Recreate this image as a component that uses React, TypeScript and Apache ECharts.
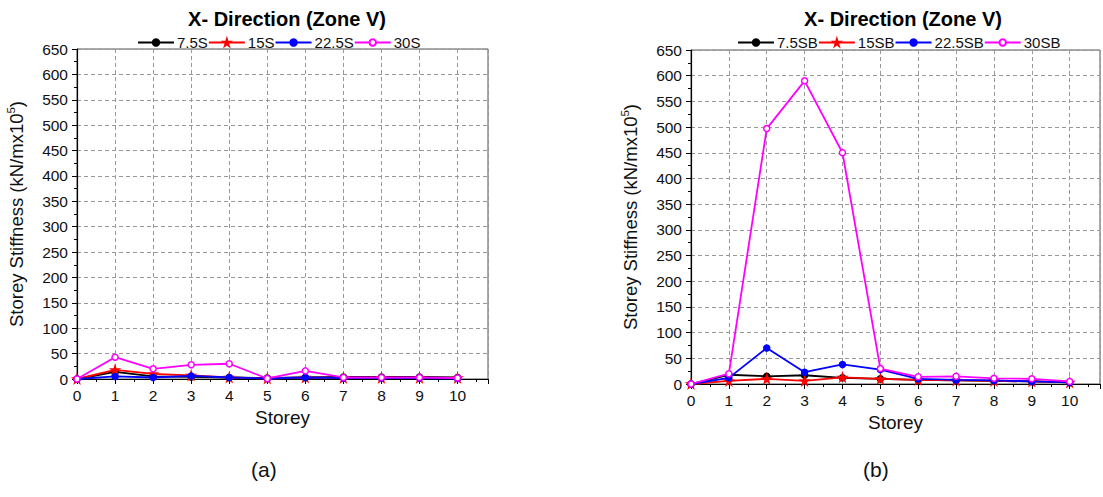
import React, { useEffect, useRef } from "react";
import * as echarts from "echarts";

const storeys = [0, 1, 2, 3, 4, 5, 6, 7, 8, 9, 10];

const namesA = ["7.5S", "15S", "22.5S", "30S"];
const s75A = [0, 14, 5, 4, 3, 2, 3, 4, 4, 4, 3];
const s15A = [0, 18, 10, 7, 3, 1, 3, 2, 2, 2, 2];
const s225A = [0, 5, 3, 6, 3, 1, 3, 2, 2, 2, 1];
const s30A = [0, 43, 20, 28, 30, 1, 16, 3, 3, 3, 2];

const namesB = ["7.5SB", "15SB", "22.5SB", "30SB"];
const s75B = [0, 18, 15, 17, 12, 10, 8, 7, 6, 5, 3];
const s15B = [0, 6, 10, 6, 13, 10, 8, 7, 6, 5, 3];
const s225B = [0, 12, 70, 23, 38, 28, 10, 8, 7, 5, 3];
const s30B = [0, 20, 497, 590, 450, 30, 14, 15, 11, 10, 5];

const titleText = "X- Direction (Zone V)";
const yName = "Storey Stiffness (kN/mx10{sup|5})";
const xName = "Storey";

const colors = ["#000000", "#ff0000", "#0000ff", "#ff00ff"];
const STAR =
  "path://M50,0 L61,35 L98,35 L68,57 L79,91 L50,70 L21,91 L32,57 L2,35 L39,35 Z";
const symbols = ["circle", STAR, "circle", "circle"];
const FONT = "Liberation Sans, Arial, sans-serif";

export default function App() {
  const ref = useRef<HTMLDivElement>(null);
  useEffect(() => {
    if (!ref.current) return;
    const chart = echarts.init(ref.current, null, { renderer: "svg" });

    const mkSeries = (names: string[], arrs: number[][], idx: number) =>
      arrs.map((arr, i) => ({
        name: names[i],
        type: "line",
        xAxisIndex: idx,
        yAxisIndex: idx,
        data: arr.map((v, j) => [storeys[j], v]),
        symbol: symbols[i],
        symbolSize: i === 1 ? 8 : 6,
        showSymbol: true,
        lineStyle: { color: colors[i], width: 1.8 },
        itemStyle: {
          color: i === 3 ? "#ffffff" : colors[i],
          borderColor: colors[i],
          borderWidth: 1.5,
        },
        z: 2 + i,
      }));

    const xAxisCommon = (gridIndex: number) => ({
      type: "value",
      gridIndex,
      min: 0,
      max: 10.8,
      interval: 1,
      name: xName,
      nameLocation: "middle",
      nameGap: 29,
      nameTextStyle: { fontSize: 19, color: "#111", fontFamily: FONT },
      axisLine: { show: true, lineStyle: { color: "#000", width: 1.2 } },
      axisTick: { show: true, length: 5, lineStyle: { color: "#000" } },
      minorTick: { show: true, splitNumber: 2, length: 3, lineStyle: { color: "#000" } },
      axisLabel: {
        fontSize: 15.5,
        color: "#111",
        fontFamily: FONT,
        margin: 8,
        formatter: (v: number) => (Number.isInteger(v) ? String(v) : ""),
      },
      splitLine: { show: true, lineStyle: { color: "#999", type: [4, 3], width: 1 } },
    });

    const yAxisCommon = (gridIndex: number) => ({
      type: "value",
      gridIndex,
      min: 0,
      max: 650,
      interval: 50,
      name: yName,
      nameLocation: "middle",
      nameGap: 50,
      nameTextStyle: {
        fontSize: 18.5,
        color: "#111",
        fontFamily: FONT,
        rich: {
          sup: { fontSize: 11.5, color: "#111", fontFamily: FONT, padding: [0, 0, 10, 0] },
        },
      },
      axisLine: { show: true, lineStyle: { color: "#000", width: 1.2 } },
      axisTick: { show: true, length: 5, lineStyle: { color: "#000" } },
      minorTick: { show: true, splitNumber: 2, length: 3, lineStyle: { color: "#000" } },
      axisLabel: { fontSize: 15.5, color: "#111", fontFamily: FONT, margin: 9 },
      splitLine: { show: true, lineStyle: { color: "#999", type: [4, 3], width: 1 } },
    });

    const legendCommon = (data: string[], left: number) => ({
      data,
      left,
      top: 30,
      itemWidth: 36,
      itemHeight: 8,
      itemGap: 0,
      textStyle: { fontSize: 15, color: "#111", fontFamily: FONT, padding: [0, 0, 0, -2] },
    });

    chart.setOption({
      animation: false,
      backgroundColor: "#ffffff",
      title: [
        {
          text: titleText,
          left: 282,
          top: 4,
          textAlign: "center",
          textStyle: { fontSize: 20, fontWeight: "bold", color: "#000", fontFamily: FONT },
        },
        {
          text: titleText,
          left: 898,
          top: 4,
          textAlign: "center",
          textStyle: { fontSize: 20, fontWeight: "bold", color: "#000", fontFamily: FONT },
        },
      ],
      legend: [legendCommon(namesA, 132), legendCommon(namesB, 732)],
      grid: [
        { left: 77, top: 49, width: 411, height: 330, show: true, borderColor: "#555", borderWidth: 1 },
        { left: 691, top: 50, width: 416, height: 334, show: true, borderColor: "#555", borderWidth: 1 },
      ],
      xAxis: [xAxisCommon(0), xAxisCommon(1)],
      yAxis: [yAxisCommon(0), yAxisCommon(1)],
      series: [
        ...mkSeries(namesA, [s75A, s15A, s225A, s30A], 0),
        ...mkSeries(namesB, [s75B, s15B, s225B, s30B], 1),
      ],
      graphic: [
        {
          type: "text",
          left: 251,
          top: 459,
          style: { text: "(a)", fontSize: 21, fill: "#111", fontFamily: FONT },
        },
        {
          type: "text",
          left: 863,
          top: 459,
          style: { text: "(b)", fontSize: 21, fill: "#111", fontFamily: FONT },
        },
      ],
    });
    return () => chart.dispose();
  }, []);
  return (
    <div
      ref={ref}
      style={{ position: "absolute", left: 0, top: 0, width: 1103, height: 497 }}
    />
  );
}
